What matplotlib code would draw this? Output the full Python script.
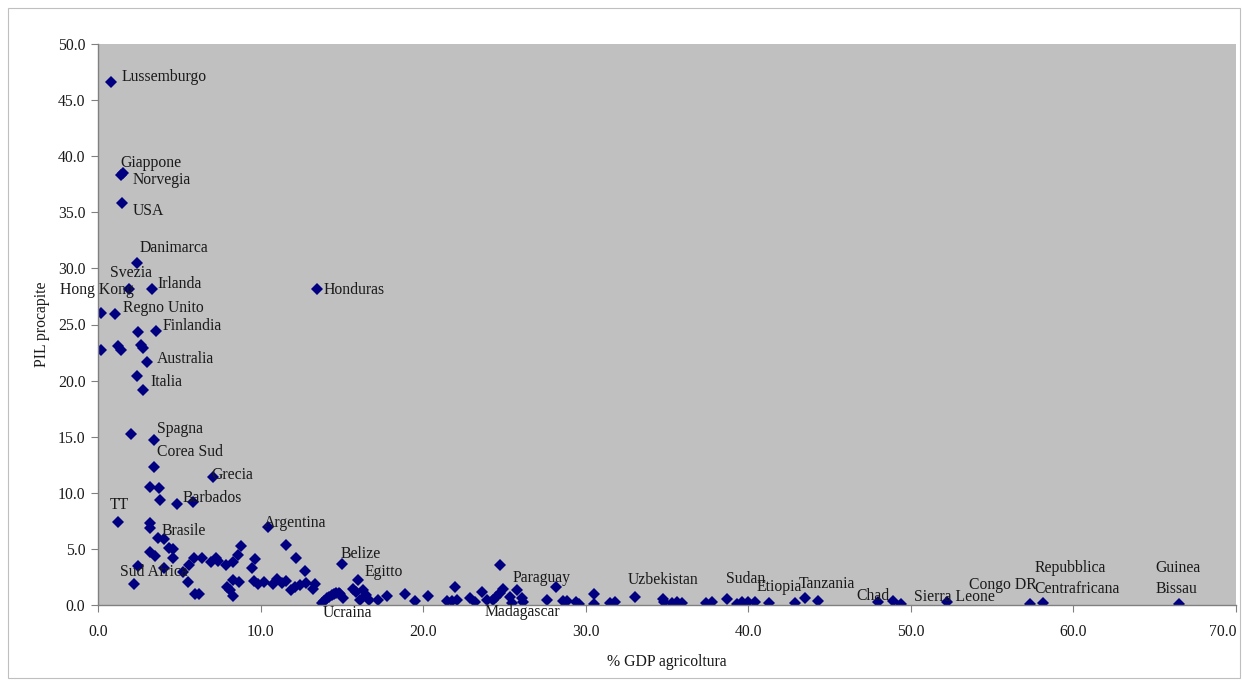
import matplotlib
matplotlib.use("Agg")
import matplotlib.pyplot as plt
from matplotlib.patches import Rectangle

plt.rcParams['font.family'] = ['Liberation Serif', 'DejaVu Serif']

# % GDP agriculture (x) and GDP per capita (y, thousands)
gdp_agri = [
    0.78, 1.56, 1.40, 1.48, 2.38, 1.91, 3.34, 13.46, 0.18, 1.07,
    2.48, 3.59, 0.18, 1.23, 1.44, 2.63, 2.79, 3.04, 2.38, 2.77,
    2.05, 3.43, 3.43, 7.06, 3.18, 3.75, 3.82, 4.88, 5.83, 1.25,
    3.18, 3.22, 10.44, 3.69, 4.06, 4.35, 4.64, 4.60, 3.20, 3.50,
    8.78, 8.60, 11.57, 12.2, 12.74, 13.35, 13.2, 2.48, 2.2, 4.06,
    5.25, 5.62, 5.52, 5.93, 6.42, 6.2, 5.95, 6.95, 7.26, 7.4,
    7.88, 8.33, 7.92, 8.29, 8.33, 8.68, 8.12, 9.64, 9.5, 9.58,
    9.87, 10.24, 10.75, 11.0, 11.3, 11.57, 11.9, 12.1, 12.4, 12.8,
    13.75, 13.9, 14.06, 14.2, 14.37, 14.5, 14.67, 14.8, 14.89, 15.05,
    15.0, 16.0, 15.7, 15.9, 16.3, 16.5, 16.1, 16.7, 17.25, 17.8,
    18.9, 19.5, 20.3, 21.45, 21.75, 22.07, 21.97, 22.9, 23.2, 24.7,
    23.6, 23.9, 24.3, 24.5, 24.74, 24.9, 25.35, 25.45, 25.8, 26.1,
    26.17, 27.6, 28.2, 28.6, 28.85, 29.4, 29.6, 30.5, 30.5, 31.5,
    31.8, 33.05, 34.75, 34.8, 35.3, 35.6, 35.9, 37.4, 37.76, 38.7,
    39.3, 39.6, 39.96, 40.4, 41.25, 42.9, 43.5, 44.3, 47.95, 48.9,
    49.4, 52.25, 57.3, 58.1, 66.5,
]
pil_procapite = [
    46.6, 38.5, 38.3, 35.8, 30.5, 28.2, 28.2, 28.2, 26.05, 25.9,
    24.3, 24.45, 22.7, 23.1, 22.7, 23.2, 22.9, 21.66, 20.4, 19.2,
    15.2, 14.7, 12.3, 11.4, 10.5, 10.4, 9.36, 9.0, 9.2, 7.37,
    7.34, 6.86, 6.98, 5.97, 5.85, 5.1, 4.96, 4.16, 4.7, 4.37,
    5.26, 4.46, 5.35, 4.2, 3.03, 1.84, 1.4, 3.5, 1.84, 3.33,
    2.91, 3.54, 2.08, 4.2, 4.2, 0.95, 1.0, 3.86, 4.16, 3.92,
    3.56, 3.86, 1.63, 0.8, 2.23, 2.08, 1.34, 4.07, 3.27, 2.14,
    1.84, 2.08, 1.87, 2.29, 1.93, 2.14, 1.34, 1.63, 1.78, 1.93,
    0.15, 0.35, 0.6, 0.75, 0.89, 1.0, 1.04, 1.05, 0.95, 0.6,
    3.63, 2.23, 1.4, 1.2, 1.34, 0.9, 0.45, 0.45, 0.45, 0.8,
    0.98, 0.36, 0.8, 0.36, 0.36, 0.45, 1.63, 0.6, 0.3, 3.56,
    1.19, 0.45, 0.45, 0.74, 1.04, 1.43, 0.74, 0.2, 1.34, 0.6,
    0.3, 0.45, 1.6, 0.38, 0.38, 0.3, 0.1, 0.98, 0.1, 0.2,
    0.3, 0.74, 0.53, 0.3, 0.2, 0.3, 0.2, 0.15, 0.3, 0.5,
    0.09, 0.24, 0.3, 0.3, 0.2, 0.15, 0.6, 0.36, 0.27, 0.36,
    0.1, 0.27, 0.1, 0.2, 0.1,
]

label_text = [
    "Lussemburgo", "Giappone", "Norvegia", "USA", "Danimarca", "Svezia",
    "Irlanda", "Hong Kong", "Honduras", "Regno Unito", "Finlandia",
    "Australia", "Italia", "Spagna", "Corea Sud", "Grecia", "Barbados",
    "TT", "Argentina", "Brasile", "Sud Africa", "Belize", "Egitto",
    "Ucraina", "Madagascar", "Paraguay", "Uzbekistan", "Sudan", "Etiopia",
    "Tanzania", "Chad", "Sierra Leone", "Congo DR", "Repubblica",
    "Centrafricana", "Guinea", "Bissau",
]
label_x = [
    1.48, 1.35, 2.15, 2.15, 2.58, 0.74, 3.63, -2.34, 13.9, 1.54, 4.0,
    3.63, 3.2, 3.63, 3.63, 6.95, 5.23, 0.74, 10.2, 3.94, 1.35, 14.9, 16.4,
    13.85, 23.75, 25.5, 32.6, 38.65, 40.5, 43.1, 46.65, 50.2, 53.6, 57.6,
    57.6, 65.05, 65.05,
]
label_y = [
    47.1, 39.4, 37.9, 35.1, 31.8, 29.6, 28.6, 28.1, 28.1, 26.5, 24.9,
    21.9, 19.9, 15.7, 13.6, 11.6, 9.5, 8.9, 7.3, 6.6, 2.94, 4.55, 2.94,
    -0.71, -0.62, 2.4, 2.2, 2.3, 1.6, 1.87, 0.8, 0.71, 1.78, 3.3,
    1.43, 3.3, 1.43,
]

x_ticks = [0, 10, 20, 30, 40, 50, 60, 70]
y_ticks = [0, 5, 10, 15, 20, 25, 30, 35, 40, 45, 50]

FS = 11.3

fig = plt.figure(figsize=(12.42, 6.8), dpi=100)
fig.patches.append(Rectangle((8 / 1242, 2 / 680), 1232 / 1242, 670 / 680,
                             transform=fig.transFigure, fill=False,
                             edgecolor='#bfbfbf', linewidth=0.8))
ax = fig.add_axes([98 / 1242, 1 - 605 / 680, (1236 - 98) / 1242, (605 - 44) / 680])
ax.set_facecolor('#c0c0c0')

ax.plot(gdp_agri, pil_procapite, linestyle='none', marker='D',
        markersize=5.8, color='#000080', markeredgewidth=0)

for t, lx, ly in zip(label_text, label_x, label_y):
    ax.text(lx, ly, t, fontsize=FS, ha='left', va='center', color='#1a1a1a',
            clip_on=False)

ax.set_xlim(0, 70)
ax.set_ylim(0, 50)
ax.set_xticks(x_ticks)
ax.set_yticks(y_ticks)
ax.set_xticklabels([f"{v:.1f}" for v in x_ticks])
ax.set_yticklabels([f"{v:.1f}" for v in y_ticks])
xl = ax.get_xticklabels()
xl[-1].set_horizontalalignment('right')
ax.tick_params(axis='x', direction='out', length=5, pad=9, labelsize=FS,
               color='#808080', labelcolor='#1a1a1a')
ax.tick_params(axis='y', direction='out', length=5, pad=4, labelsize=FS,
               color='#808080', labelcolor='#1a1a1a')
for s in ['top', 'right']:
    ax.spines[s].set_visible(False)
for s in ['left', 'bottom']:
    ax.spines[s].set_color('#808080')
    ax.spines[s].set_linewidth(1.0)

ax.set_xlabel("% GDP agricoltura", fontsize=FS, labelpad=10, color='#1a1a1a')
ax.set_ylabel("PIL procapite", fontsize=FS, labelpad=6, color='#1a1a1a')

fig.savefig("out.png", dpi=100)
